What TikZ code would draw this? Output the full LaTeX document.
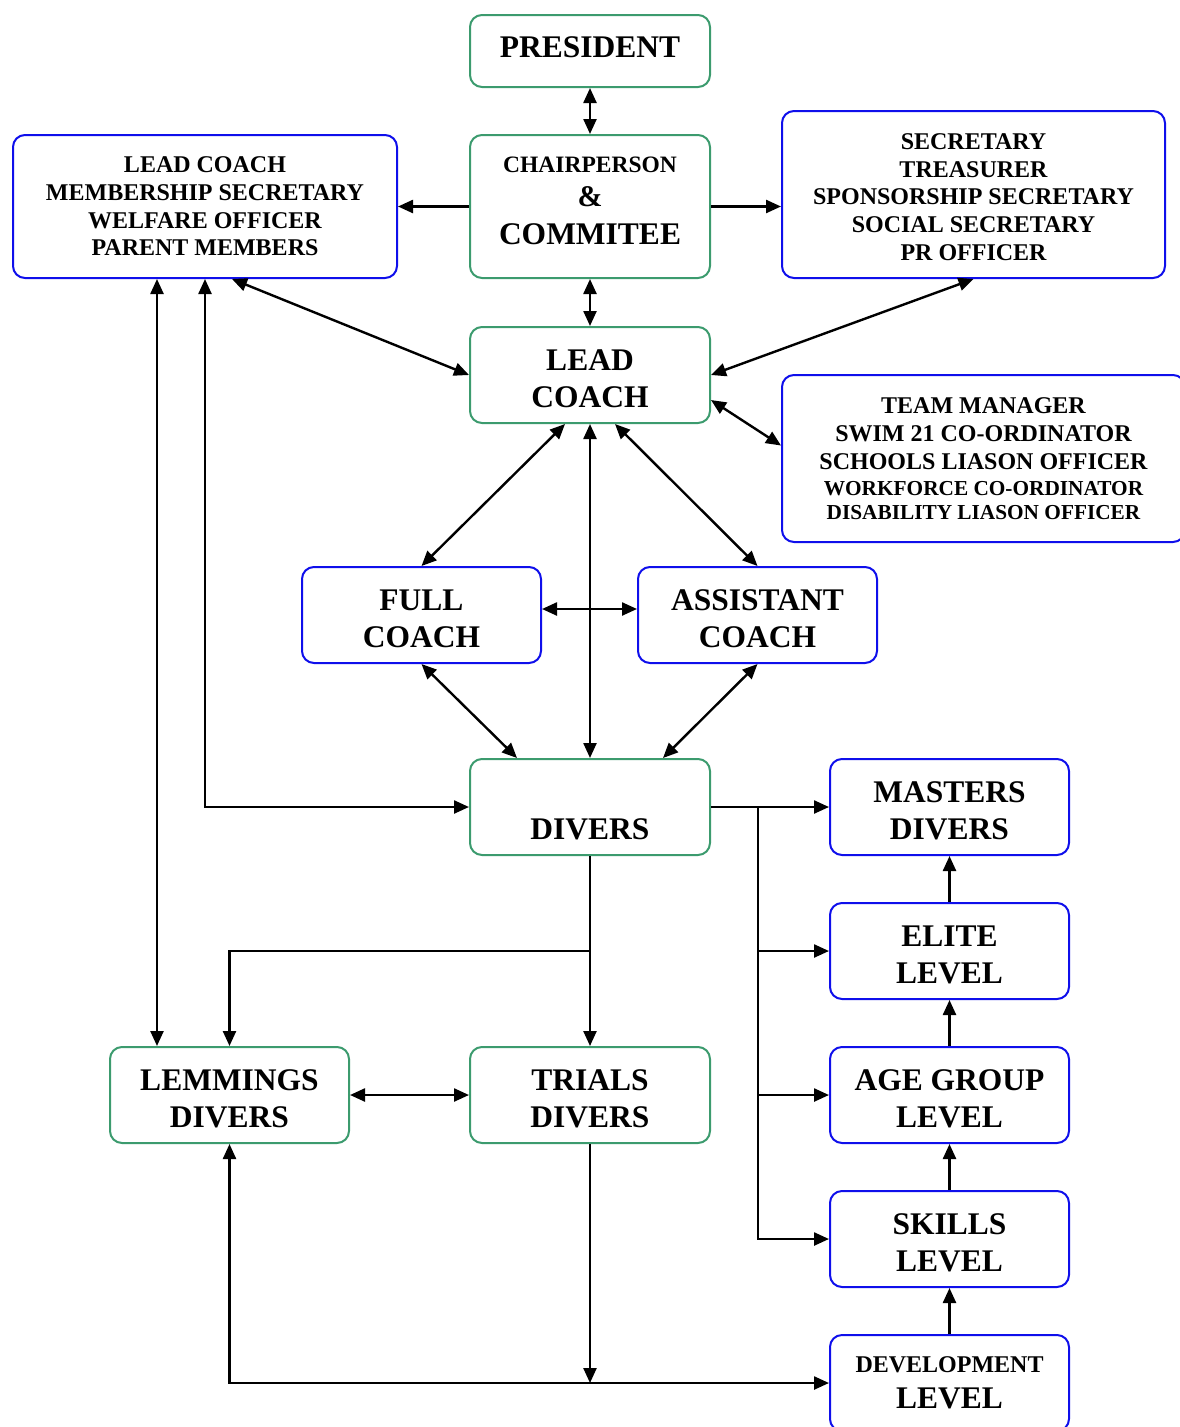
\documentclass[tikz,border=0pt]{standalone}
\usepackage{fontspec}
\setmainfont{Liberation Serif}
\usetikzlibrary{arrows.meta}
\definecolor{gbox}{RGB}{60,155,110}
\definecolor{bbox}{RGB}{15,15,235}
\newcommand\myup{\rule{0pt}{29pt}}
\tikzset{
  boxbase/.style={rounded corners=12pt, line width=2pt, inner sep=0pt, align=center, font=\bfseries},
  gbx/.style={boxbase, draw=gbox},
  bbx/.style={boxbase, draw=bbox},
  bigf/.style={font=\bfseries\fontsize{31.5}{37}\selectfont},
  medf/.style={font=\bfseries\fontsize{24}{27.6}\selectfont},
  conn/.style={line width=2.4pt, >={Triangle[length=15pt,width=13pt]}},
}
\begin{document}
\begin{tikzpicture}[x=1pt,y=-1pt]
\useasboundingbox (0,0) rectangle (1179,1427);
% boxes
\node[gbx,font=\bfseries\fontsize{31.5}{37}\selectfont,minimum width=240pt,minimum height=72pt] (pres) at (590,51) {PRESIDENT\rule[-7pt]{0pt}{1pt}};
\node[gbx,font=\bfseries\fontsize{31.5}{36}\selectfont,minimum width=240pt,minimum height=143pt] (chair) at (590,206.5)
  {\fontsize{23.5}{36}\selectfont CHAIRPERSON\\[-2pt]\fontsize{30}{36}\selectfont\&\\[2pt]COMMITEE\rule[-12pt]{0pt}{1pt}};
\node[bbx,medf,minimum width=384pt,minimum height=143pt] (lb) at (205,206.5)
  {LEAD COACH\\MEMBERSHIP SECRETARY\\WELFARE OFFICER\\PARENT MEMBERS};
\node[bbx,medf,minimum width=383pt,minimum height=167pt] (rb) at (973.5,194.5)
  {\rule{0pt}{21pt}SECRETARY\\TREASURER\\SPONSORSHIP SECRETARY\\SOCIAL SECRETARY\\PR OFFICER};
\node[gbx,bigf,minimum width=240pt,minimum height=96pt] (lead) at (590,375) {\myup LEAD\\COACH};
\node[bbx,font=\bfseries\fontsize{24}{28}\selectfont,minimum width=403pt,minimum height=167pt] (tm) at (983.5,458.5)
  {TEAM MANAGER\\SWIM 21 CO-ORDINATOR\\SCHOOLS LIASON OFFICER\\[-2pt]\fontsize{21.3}{28}\selectfont WORKFORCE CO-ORDINATOR\\[-4pt]\fontsize{21.3}{28}\selectfont DISABILITY LIASON OFFICER};
\node[bbx,bigf,minimum width=239pt,minimum height=96pt] (full) at (421.5,615) {\myup FULL\\COACH};
\node[bbx,bigf,minimum width=239pt,minimum height=96pt] (asst) at (757.5,615) {\myup ASSISTANT\\COACH};
\node[gbx,bigf,minimum width=240pt,minimum height=96pt] (div) at (590,807) {\myup\\DIVERS};
\node[bbx,bigf,minimum width=239pt,minimum height=96pt] (mas) at (949.5,807) {\myup MASTERS\\DIVERS};
\node[bbx,bigf,minimum width=239pt,minimum height=96pt] (eli) at (949.5,951) {\myup ELITE\\LEVEL};
\node[bbx,bigf,minimum width=239pt,minimum height=96pt] (age) at (949.5,1095) {\myup AGE GROUP\\LEVEL};
\node[bbx,bigf,minimum width=239pt,minimum height=96pt] (ski) at (949.5,1239) {\myup SKILLS\\LEVEL};
\node[bbx,font=\bfseries\fontsize{31.5}{35}\selectfont,minimum width=239pt,minimum height=96pt] (dev) at (949.5,1383)
  {\fontsize{24}{35}\selectfont DEVELOPMENT\\[1pt]LEVEL};
\node[gbx,bigf,minimum width=239pt,minimum height=96pt] (lem) at (229.5,1095) {\myup LEMMINGS\\DIVERS};
\node[gbx,bigf,minimum width=240pt,minimum height=96pt] (tri) at (590,1095) {\myup TRIALS\\DIVERS};
% coordinates
\coordinate (br) at (758,807);
\coordinate (br2) at (590,951);
\coordinate (bot) at (590,1383);
% connectors
\begin{scope}[conn]
\draw[<->] (pres.south) -- (chair.north);
\draw[->] (chair.west) -- (lb.east);
\draw[->] (chair.east) -- (chair.east -| rb.west);
\draw[<->] (chair.south) -- (lead.north);
\draw[<->] ([xshift=27pt]lb.south) -- (lead.west);
\draw[<->] (rb.south) -- (lead.east);
\draw[<->] ([yshift=-25pt]lead.east) -- ([yshift=13pt]tm.west);
\draw[<->] ([xshift=-25pt]lead.south) -- (full.north);
\draw[<->] ([xshift=25pt]lead.south) -- (asst.north);
\draw[<->] (lead.south) -- (div.north);
\draw[<->] ([yshift=6pt]full.east) -- ([yshift=6pt]asst.west);
\draw[<->] (full.south) -- ([xshift=-73pt]div.north);
\draw[<->] (asst.south) -- ([xshift=73pt]div.north);
\draw[<->] ([xshift=-48pt]lb.south) -- ([xshift=-72.5pt]lem.north);
\draw[<->] (lb.south) |- (div.west);
\draw[->] (div.east) -- (mas.west);
\draw[->] (br) |- (eli.west);
\draw[->] (br) |- (age.west);
\draw[->] (br) |- (ski.west);
\draw[->] (div.south) -- (tri.north);
\draw[->] (br2) -| (lem.north);
\draw[<->] (lem.east) -- (tri.west);
\draw[->] (tri.south) -- (bot);
\draw[<->] (lem.south) |- (dev.west);
\draw[->] (dev.north) -- (ski.south);
\draw[->] (ski.north) -- (age.south);
\draw[->] (age.north) -- (eli.south);
\draw[->] (eli.north) -- (mas.south);
\end{scope}
\end{tikzpicture}
\end{document}
